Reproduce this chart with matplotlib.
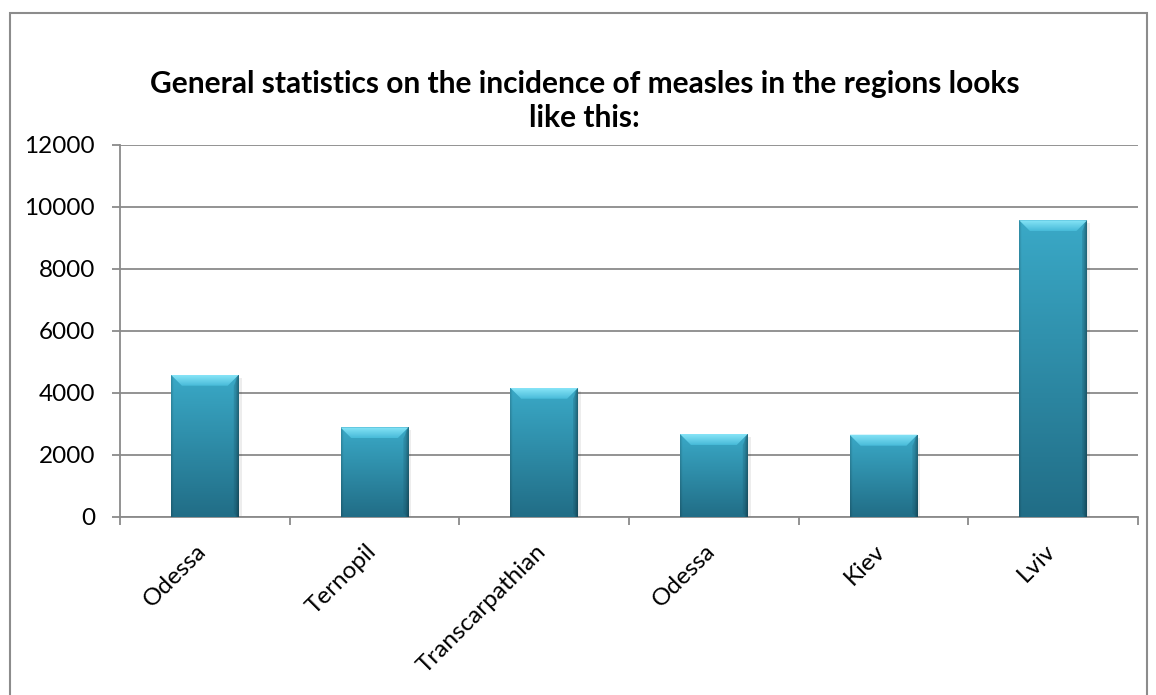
import matplotlib
matplotlib.use("Agg")
import matplotlib.pyplot as plt
from matplotlib.patches import Polygon, Rectangle
from matplotlib.transforms import IdentityTransform, ScaledTranslation
import numpy as np

# ---------------------------------------------------
# Measles incidence by region (Excel-style bevel bars)
# ---------------------------------------------------

regions = ["Odessa", "Ternopil", "Transcarpathian", "Odessa", "Kiev", "Lviv"]
cases = [4580, 2880, 4160, 2670, 2645, 9560]
y_ticks = [0, 2000, 4000, 6000, 8000, 10000, 12000]
title = "General statistics on the incidence of measles in the regions looks\nlike this:"

plt.rcParams['font.family'] = ['Lato', 'DejaVu Sans']

W, H = 1156, 695
fig = plt.figure(figsize=(W / 100, H / 100), dpi=100)
ax = fig.add_axes([120 / W, 1 - 516.7 / H, (1138 - 120) / W, (516.7 - 144.7) / H])

grid_c = "#8a8a8a"
x = np.arange(len(regions))
bar_w = 0.4

bars = ax.bar(x, cases, width=bar_w, color="#2b8aa5", zorder=3)
ax.set_xlim(-0.5, len(regions) - 0.5)
ax.set_ylim(0, 12000)

ax.set_yticks(y_ticks)
ax.set_yticklabels([str(t) for t in y_ticks], fontsize=17.5)
ax.yaxis.grid(True, color=grid_c, lw=1.3, zorder=0)
ax.set_axisbelow(True)

# category boundaries get the ticks, labels sit at the centres
ax.set_xticks(np.arange(-0.5, len(regions)), minor=False)
ax.set_xticklabels([])
ax.set_xticks(x, minor=True)
ax.set_xticklabels(regions, minor=True, rotation=45, ha='right', va='top',
                   rotation_mode='anchor', fontsize=17.5)
ax.tick_params(axis='x', which='minor', length=0, pad=17)
ax.tick_params(axis='x', which='major', length=6, color=grid_c, width=1.3)
ax.tick_params(axis='y', length=6, color=grid_c, width=1.3, pad=12)

shift = ScaledTranslation(-9 / 100, 0, fig.dpi_scale_trans)
for lab in ax.get_xticklabels(minor=True):
    lab.set_transform(lab.get_transform() + shift)

for s in ["top", "right"]:
    ax.spines[s].set_visible(False)
for s in ["left", "bottom"]:
    ax.spines[s].set_color(grid_c)
    ax.spines[s].set_linewidth(1.3)

# gradient body: lighter at the top, darker at the bottom and at the sides
top_c = np.array([0x3a, 0xa9, 0xc7]) / 255
bot_c = np.array([0x21, 0x6d, 0x86]) / 255
ny, nx = 200, 60
t = np.linspace(0, 1, ny)[:, None, None]
body = np.repeat(top_c * (1 - t) + bot_c * t, nx, axis=1)
edge = np.ones(nx)
edge[:2] = [0.85, 0.93]
edge[-3:] = [0.9, 0.8, 0.68]
body = body * edge[None, :, None]

# gradient for the top bevel
bev_top = np.array([0x86, 0xe4, 0xf7]) / 255
bev_bot = np.array([0x48, 0xbb, 0xd9]) / 255
tb = np.linspace(0, 1, 20)[:, None, None]
bevel = np.repeat(bev_top * (1 - tb) + bev_bot * tb, 4, axis=1)

for b in bars:
    x0, y0, bw, bh = b.get_x(), b.get_y(), b.get_width(), b.get_height()
    im = ax.imshow(body, extent=(x0, x0 + bw, y0, y0 + bh), aspect='auto',
                   zorder=4, interpolation='bilinear')
    im.set_clip_path(b)

    # bevel on top (pixel space)
    (px0, py0), (px1, py1) = ax.transData.transform([(x0, y0), (x0 + bw, y0 + bh)])
    d = 11
    top = Polygon([(px0, py1), (px1, py1), (px1 - d, py1 - d), (px0 + d, py1 - d)],
                  closed=True, transform=IdentityTransform(), facecolor="none",
                  edgecolor="none", zorder=5)
    ax.add_patch(top)
    ix0, iy0 = ax.transData.inverted().transform((px0, py1 - d))
    bim = ax.imshow(bevel, extent=(x0, x0 + bw, iy0, y0 + bh), aspect='auto',
                    zorder=5, interpolation='bilinear')
    bim.set_clip_path(top)

    right = Polygon([(px1, py1), (px1 - 5, py1 - d), (px1 - 5, py0 + 3), (px1, py0)],
                    closed=True, transform=IdentityTransform(), facecolor="#164f62",
                    edgecolor="none", alpha=0.25, zorder=5)
    ax.add_patch(right)
    shadow = Rectangle((px1, py0), 3, py1 - py0 - 3, transform=IdentityTransform(),
                       facecolor="#000000", alpha=0.07, edgecolor="none", zorder=2)
    ax.add_patch(shadow)

ax.set_xlim(-0.5, len(regions) - 0.5)
ax.set_ylim(0, 12000)

# chart frame
fig.patches.append(Rectangle((10 / W, -0.01), (1147 - 10) / W, (H - 13) / H + 0.01,
                             transform=fig.transFigure, fill=False,
                             edgecolor="#8c8c8c", lw=1.5))

fig.text(0.5055, 1 - 101 / H, title, ha='center', va='center', fontsize=21.5,
         fontweight='bold', linespacing=1.3)

fig.savefig("out.png", dpi=100)
